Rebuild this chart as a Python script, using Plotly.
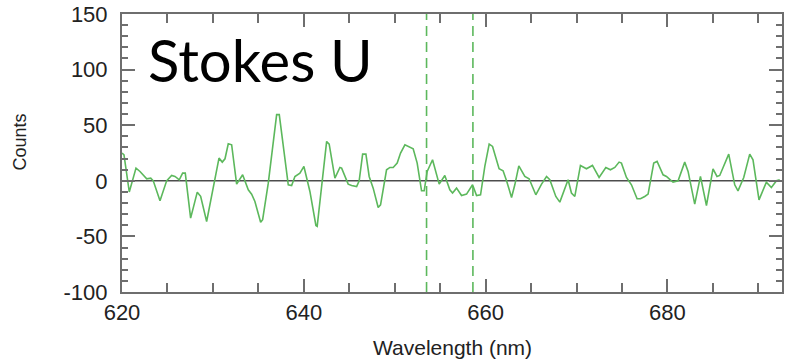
import plotly.graph_objects as go

# Stokes U spectrum: wavelength (nm) and counts
wavelength = [
    620.00, 620.22, 620.80, 621.54, 621.98, 622.72, 623.16, 623.44, 624.18, 624.91,
    625.46, 625.83, 626.30, 626.67, 626.96, 627.55, 628.28, 628.65, 629.31, 630.23,
    630.67, 631.03, 631.33, 631.69, 632.06, 632.61, 633.27, 633.89, 634.26, 634.62,
    635.25, 635.47, 636.09, 637.01, 637.30, 638.29, 638.66, 639.02, 639.57, 640.01,
    640.67, 641.33, 641.47, 642.51, 642.79, 643.42, 643.97, 644.16, 644.88, 645.26,
    645.81, 646.09, 646.47, 646.83, 647.19, 647.63, 648.18, 648.44, 649.10, 649.47,
    649.83, 650.27, 650.64, 651.12, 651.59, 652.03, 652.47, 652.95, 653.24, 653.57,
    654.16, 654.89, 655.51, 656.06, 656.36, 656.80, 657.35, 657.90, 658.56, 659.00,
    659.44, 659.91, 660.39, 660.76, 661.48, 661.92, 662.30, 662.85, 663.21, 663.65,
    664.31, 664.78, 665.52, 666.15, 666.70, 667.06, 667.72, 668.16, 669.07, 669.44,
    669.81, 670.43, 671.09, 671.75, 672.48, 673.22, 673.73, 674.21, 674.68, 674.94,
    675.49, 676.04, 676.66, 677.03, 677.50, 677.87, 678.49, 678.86, 679.52, 679.89,
    680.44, 680.62, 681.17, 681.90, 682.27, 683.00, 683.63, 684.29, 685.01, 685.45,
    685.75, 686.19, 686.74, 687.40, 687.76, 688.39, 689.05, 689.41, 690.07, 690.88,
    691.43, 691.99, 692.35,
]
counts = [
    25.0, 23.4, -10.0, 11.4, 8.4, 1.8, 2.4, 0.0, -18.0, 0.0,
    4.8, 3.9, 0.9, 6.9, 6.9, -33.6, -10.2, -14.0, -36.6, 2.4,
    20.4, 16.8, 19.8, 33.3, 32.4, -3.0, 5.4, -8.1, -12.0, -18.6,
    -37.2, -35.0, -2.1, 59.5, 59.5, -3.6, -4.2, 3.9, 6.9, 12.9,
    -9.6, -40.2, -41.0, 35.4, 33.0, 2.4, 12.0, 11.4, -3.0, -4.2,
    -5.1, 0.0, 24.0, 24.0, 3.9, -6.6, -24.0, -21.6, 9.9, 12.0,
    12.0, 15.9, 24.9, 32.4, 30.9, 28.8, 15.9, -9.0, -9.0, 8.4,
    18.9, -3.0, 4.8, -8.1, -11.0, -6.6, -13.2, -12.0, -3.6, -13.2,
    -12.6, 12.9, 33.0, 30.9, 10.8, 9.0, 0.0, -15.0, -3.6, 13.5,
    3.9, 1.8, -12.6, -3.0, 3.9, 0.9, -14.1, -19.2, 0.9, -11.0,
    -14.1, 13.8, 10.8, 13.8, 3.0, 12.0, 9.9, 12.0, 16.8, 15.9,
    3.0, -3.6, -16.2, -16.2, -14.1, -12.0, 15.9, 17.4, 5.4, 3.9,
    0.0, -1.2, 0.0, 16.8, 8.4, -21.0, 3.9, -22.2, 10.8, 3.9,
    4.8, 12.9, 24.0, -3.6, -9.0, 3.0, 24.0, 18.9, -17.1, -1.2,
    -6.0, 0.0, 0.9,
]

# Wavelengths of the two dashed markers
marker_lines = [653.5, 658.6]

# Axis ticks and their labels
x_ticks = [620, 640, 660, 680]
x_tick_labels = ["620", "640", "660", "680"]
y_ticks = [-100, -50, 0, 50, 100, 150]
y_tick_labels = ["-100", "-50", "0", "50", "100", "150"]

x_range = [620, 692.6]
y_range = [-100, 150]

green = "#5cb85c"
frame = "#6e6e6e"
text_color = "#222"

fig = go.Figure()

# zero reference line
fig.add_trace(go.Scatter(
    x=x_range, y=[0, 0], mode="lines",
    line=dict(color="#4d4d4d", width=1.5), hoverinfo="skip", showlegend=False,
))

fig.add_trace(go.Scatter(
    x=wavelength, y=counts, mode="lines",
    line=dict(color=green, width=1.6), showlegend=False,
))

for wl in marker_lines:
    fig.add_shape(type="line", x0=wl, x1=wl, y0=y_range[0], y1=y_range[1],
                  xref="x", yref="y",
                  line=dict(color=green, width=1.6, dash="10px,6px"))

fig.add_annotation(
    text="Stokes U", xref="paper", yref="paper", x=0.036, y=0.835,
    xanchor="left", yanchor="middle", showarrow=False,
    font=dict(family="Lato", size=58, color="black"),
)

# axis titles
fig.add_annotation(
    text="Wavelength (nm)", xref="paper", yref="paper", x=0.5, y=-0.20,
    xanchor="center", yanchor="middle", showarrow=False,
    font=dict(family="Liberation Sans", size=21, color=text_color),
)
fig.add_annotation(
    text="Counts", xref="paper", yref="paper", x=-0.155, y=0.54, textangle=-90,
    xanchor="center", yanchor="middle", showarrow=False,
    font=dict(family="Liberation Sans", size=18, color=text_color),
)

axis_font = dict(family="Liberation Sans", size=22, color=text_color)

fig.update_xaxes(
    range=x_range, tickvals=x_ticks, ticktext=x_tick_labels,
    ticks="inside", ticklen=13, tickwidth=1.5, tickcolor=frame,
    minor=dict(ticks="inside", tick0=620, dtick=5, ticklen=9, tickwidth=1.5, tickcolor=frame),
    showline=True, linecolor=frame, linewidth=2, mirror="ticks",
    showgrid=False, zeroline=False, tickfont=axis_font, automargin=False,
)
fig.update_yaxes(
    range=y_range, tickvals=y_ticks, ticktext=y_tick_labels,
    ticks="inside", ticklen=13, tickwidth=1.5, tickcolor=frame,
    minor=dict(ticks="inside", tick0=-100, dtick=10, ticklen=6, tickwidth=1.5, tickcolor=frame),
    showline=True, linecolor=frame, linewidth=2, mirror="ticks",
    showgrid=False, zeroline=False, tickfont=axis_font, automargin=False,
    ticklabelstandoff=8,
)

fig.update_layout(
    width=789, height=360,
    margin=dict(l=122, r=7, t=14, b=68),
    plot_bgcolor="white", paper_bgcolor="white",
)

fig.write_html("out.html")
